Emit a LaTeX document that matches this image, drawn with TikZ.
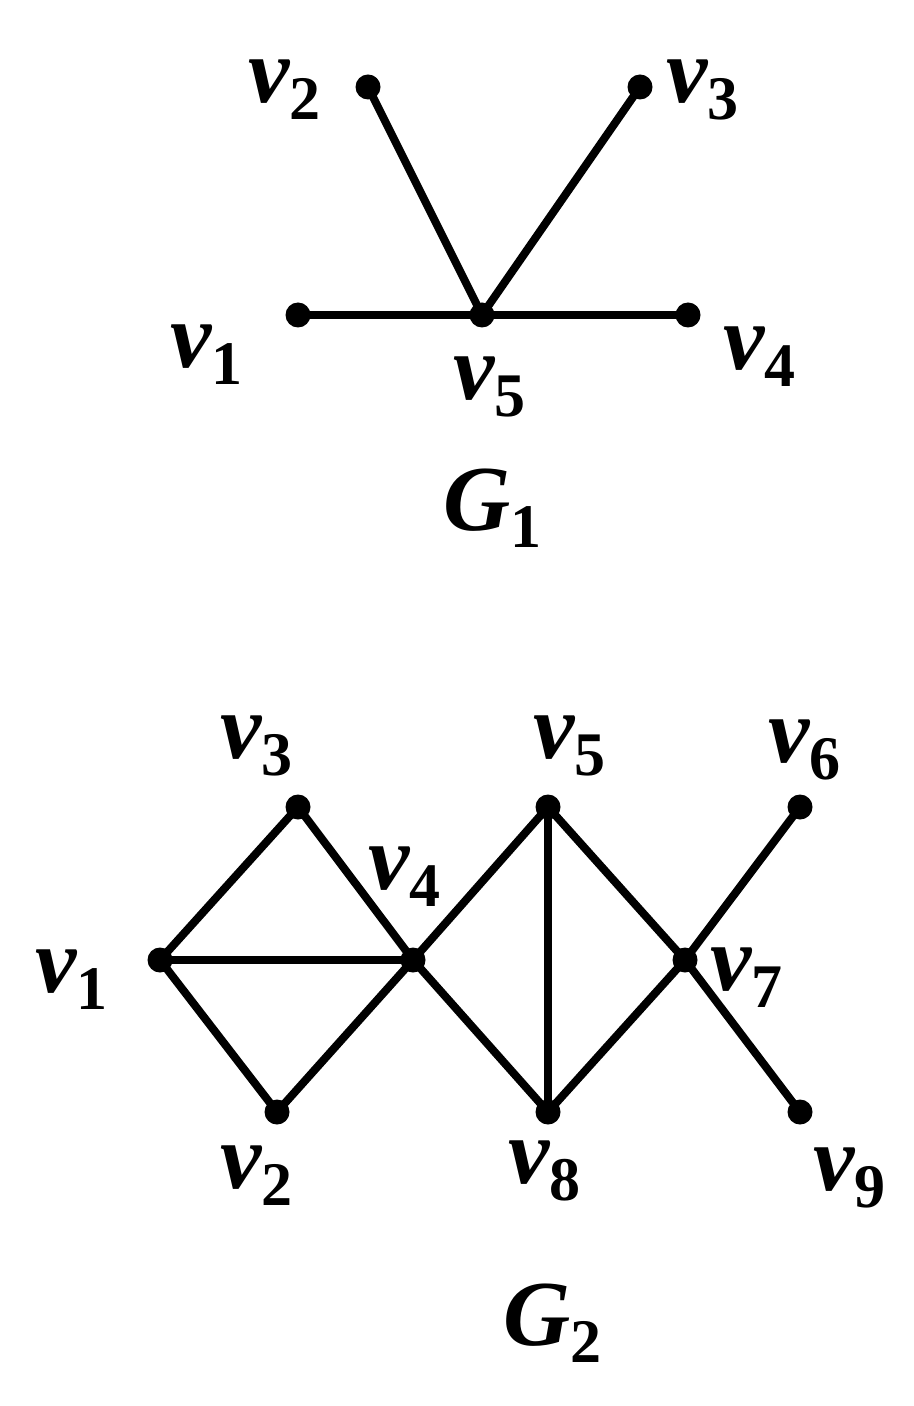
\documentclass[tikz,border=0pt]{standalone}
\usepackage{fontspec}
\setmainfont{Liberation Serif}
\newcommand{\vlab}[2]{{\fontsize{46.5}{50}\selectfont\bfseries\itshape #1}\raisebox{-8.5pt}{\fontsize{31}{34}\selectfont\bfseries #2}}
\begin{document}
\begin{tikzpicture}[x=0.5pt,y=-0.5pt,
  dot/.style={circle,fill=black,inner sep=0pt,minimum size=12.5pt},
  edge/.style={line width=4pt},
  lab/.style={anchor=base west,inner sep=0pt}]
\useasboundingbox (0,0) rectangle (914,1406);
% G1 vertices
\node[dot] (a1) at (298,315) {};
\node[dot] (a2) at (368,87) {};
\node[dot] (a3) at (640,87) {};
\node[dot] (a4) at (688,315) {};
\node[dot] (a5) at (482,315) {};
\draw[edge] (a2.center) -- (a5.center);
\draw[edge] (a3.center) -- (a5.center);
\draw[edge] (a1.center) -- (a5.center);
\draw[edge] (a5.center) -- (a4.center);
% G1 labels
\node[lab] (la1) at (170,368) {\vlab{v}{1}};
\node[lab] (la2) at (248,103) {\vlab{v}{2}};
\node[lab] (la3) at (666,103) {\vlab{v}{3}};
\node[lab] (la4) at (723,370) {\vlab{v}{4}};
\node[lab] (la5) at (453,400) {\vlab{v}{5}};
\node[lab] (g1) at (443,530) {\vlab{G}{1}};
% G2 vertices
\node[dot] (b1) at (160,960) {};
\node[dot] (b2) at (277,1112) {};
\node[dot] (b3) at (298,807) {};
\node[dot] (b4) at (413,960) {};
\node[dot] (b5) at (548,807) {};
\node[dot] (b6) at (800,807) {};
\node[dot] (b7) at (685,960) {};
\node[dot] (b8) at (548,1112) {};
\node[dot] (b9) at (800,1112) {};
\draw[edge] (b1.center) -- (b3.center);
\draw[edge] (b3.center) -- (b4.center);
\draw[edge] (b1.center) -- (b4.center);
\draw[edge] (b1.center) -- (b2.center);
\draw[edge] (b2.center) -- (b4.center);
\draw[edge] (b4.center) -- (b5.center);
\draw[edge] (b4.center) -- (b8.center);
\draw[edge] (b5.center) -- (b8.center);
\draw[edge] (b5.center) -- (b7.center);
\draw[edge] (b8.center) -- (b7.center);
\draw[edge] (b7.center) -- (b6.center);
\draw[edge] (b7.center) -- (b9.center);
% G2 labels
\node[lab] (lb1) at (35,992) {\vlab{v}{1}};
\node[lab] (lb2) at (220,1188) {\vlab{v}{2}};
\node[lab] (lb3) at (220,758) {\vlab{v}{3}};
\node[lab] (lb4) at (368,889) {\vlab{v}{4}};
\node[lab] (lb5) at (533,758) {\vlab{v}{5}};
\node[lab] (lb6) at (768,762) {\vlab{v}{6}};
\node[lab] (lb7) at (710,990) {\vlab{v}{7}};
\node[lab] (lb8) at (508,1183) {\vlab{v}{8}};
\node[lab] (lb9) at (813,1190) {\vlab{v}{9}};
\node[lab] (g2) at (503,1345) {\vlab{G}{2}};
\end{tikzpicture}
\end{document}
